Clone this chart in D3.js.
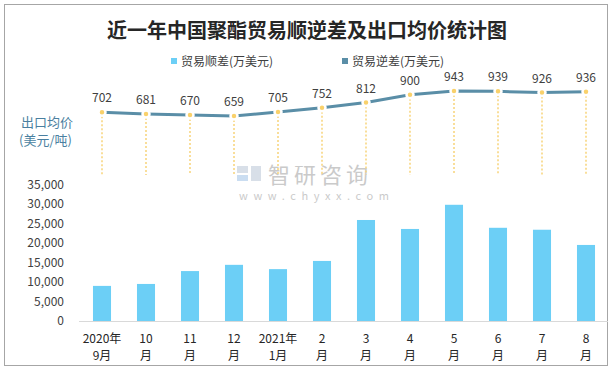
<!DOCTYPE html>
<html>
<head>
<meta charset="utf-8">
<script src="https://cdn.jsdelivr.net/npm/d3@7"></script>
<style>
  body { margin: 0; background: #fff; }
  text { font-family: "Noto Sans CJK SC", "Noto Sans", sans-serif; }
</style>
</head>
<body>
<div id="chart"></div>
<script>
// data
const months = ["2020年\n9月", "10\n月", "11\n月", "12\n月", "2021年\n1月", "2\n月", "3\n月", "4\n月", "5\n月", "6\n月", "7\n月", "8\n月"];
const surplus = [9000, 9500, 12800, 14400, 13300, 15400, 25900, 23600, 29800, 23900, 23400, 19500];
const avgPrice = [702, 681, 670, 659, 705, 752, 812, 900, 943, 939, 926, 936];
const yTicks = [0, 5000, 10000, 15000, 20000, 25000, 30000, 35000];

const W = 614, H = 370;
const svg = d3.select("#chart").append("svg")
    .attr("width", W).attr("height", H);

// frame
svg.append("rect")
    .attr("x", 4.5).attr("y", 4.5)
    .attr("width", 603).attr("height", 361)
    .attr("fill", "none").attr("stroke", "#a6a6a6");

// title
svg.append("text")
    .attr("x", 307).attr("y", 38)
    .attr("text-anchor", "middle")
    .attr("font-size", 20).attr("font-weight", "bold")
    .attr("fill", "#262626")
    .text("近一年中国聚酯贸易顺逆差及出口均价统计图");

// legend
const legend = [
    { name: "贸易顺差(万美元)", color: "#6ccff6", x: 171 },
    { name: "贸易逆差(万美元)", color: "#5a8ea7", x: 342 }
];
legend.forEach(l => {
    svg.append("rect").attr("x", l.x).attr("y", 58)
        .attr("width", 6).attr("height", 6).attr("fill", l.color);
    svg.append("text").attr("x", l.x + 10).attr("y", 65.5)
        .attr("font-size", 12).attr("fill", "#404040").text(l.name);
});

// scales
const x = d3.scaleBand().domain(months).range([80, 608]).paddingInner(0.59).paddingOuter(0.295);
const y = d3.scaleLinear().domain([0, 35000]).range([321, 184.5]);
const yLine = d3.scaleLinear().domain([0, 1000]).range([174, 86]);
const cx = d => x(d) + x.bandwidth() / 2;

// watermark
const wm = svg.append("g").attr("opacity", 0.55);
wm.append("rect").attr("x", 237).attr("y", 166).attr("width", 11).attr("height", 7).attr("fill", "#b9c6d6");
wm.append("rect").attr("x", 237).attr("y", 175).attr("width", 11).attr("height", 6).attr("fill", "#9fc3e6");
wm.append("rect").attr("x", 251).attr("y", 166).attr("width", 10).attr("height", 15).attr("fill", "#b9c6d6");
wm.append("text").attr("x", 268).attr("y", 183)
    .attr("font-size", 22).attr("letter-spacing", 4).attr("fill", "#a0a0a0").text("智研咨询");
wm.append("text").attr("x", 239).attr("y", 200)
    .attr("font-size", 11).attr("letter-spacing", 5.6).attr("fill", "#a0a0a0").text("www.chyxx.com");

// y axis labels
svg.append("g").selectAll("text").data(yTicks).join("text")
    .attr("x", 64).attr("y", d => y(d) + 4)
    .attr("text-anchor", "end").attr("font-size", 12).attr("fill", "#404040")
    .text(d => d3.format(",")(d));

// bars
svg.append("g").selectAll("rect").data(surplus).join("rect")
    .attr("x", (d, i) => x(months[i]))
    .attr("y", d => y(d))
    .attr("width", x.bandwidth())
    .attr("height", d => y(0) - y(d))
    .attr("fill", "#6ccff6");

// baseline
svg.append("line").attr("x1", 79).attr("x2", 608)
    .attr("y1", 321.5).attr("y2", 321.5)
    .attr("stroke", "#d9d9d9");

// x labels
const xl = svg.append("g").selectAll("text").data(months).join("text")
    .attr("text-anchor", "middle").attr("font-size", 12).attr("fill", "#262626");
xl.each(function(d) {
    const parts = d.split("\n");
    d3.select(this).selectAll("tspan").data(parts).join("tspan")
        .attr("x", cx(d)).attr("y", (p, j) => 343 + j * 17).text(p => p);
});

// left label for price
svg.append("text").attr("x", 21).attr("y", 127)
    .attr("font-size", 13).attr("fill", "#4a7fa0").text("出口均价");
svg.append("text").attr("x", 19).attr("y", 145)
    .attr("font-size", 13).attr("fill", "#4a7fa0").text("(美元/吨)");

// dotted drop lines
svg.append("g").selectAll("line").data(avgPrice).join("line")
    .attr("x1", (d, i) => cx(months[i])).attr("x2", (d, i) => cx(months[i]))
    .attr("y1", d => yLine(d)).attr("y2", 175)
    .attr("stroke", "#f8d47a").attr("stroke-width", 1.5)
    .attr("stroke-dasharray", "2,2");

// price line
const line = d3.line().x((d, i) => cx(months[i])).y(d => yLine(d));
svg.append("path").datum(avgPrice)
    .attr("d", line)
    .attr("fill", "none").attr("stroke", "#5a8ea7").attr("stroke-width", 3);

// markers
svg.append("g").selectAll("circle").data(avgPrice).join("circle")
    .attr("cx", (d, i) => cx(months[i])).attr("cy", d => yLine(d))
    .attr("r", 3.5)
    .attr("fill", "#f9d16b").attr("stroke", "#fff").attr("stroke-width", 2.5);

// price labels
svg.append("g").selectAll("text").data(avgPrice).join("text")
    .attr("x", (d, i) => cx(months[i])).attr("y", d => yLine(d) - 10)
    .attr("text-anchor", "middle").attr("font-size", 12).attr("fill", "#404040")
    .text(d => d);
</script>
</body>
</html>
